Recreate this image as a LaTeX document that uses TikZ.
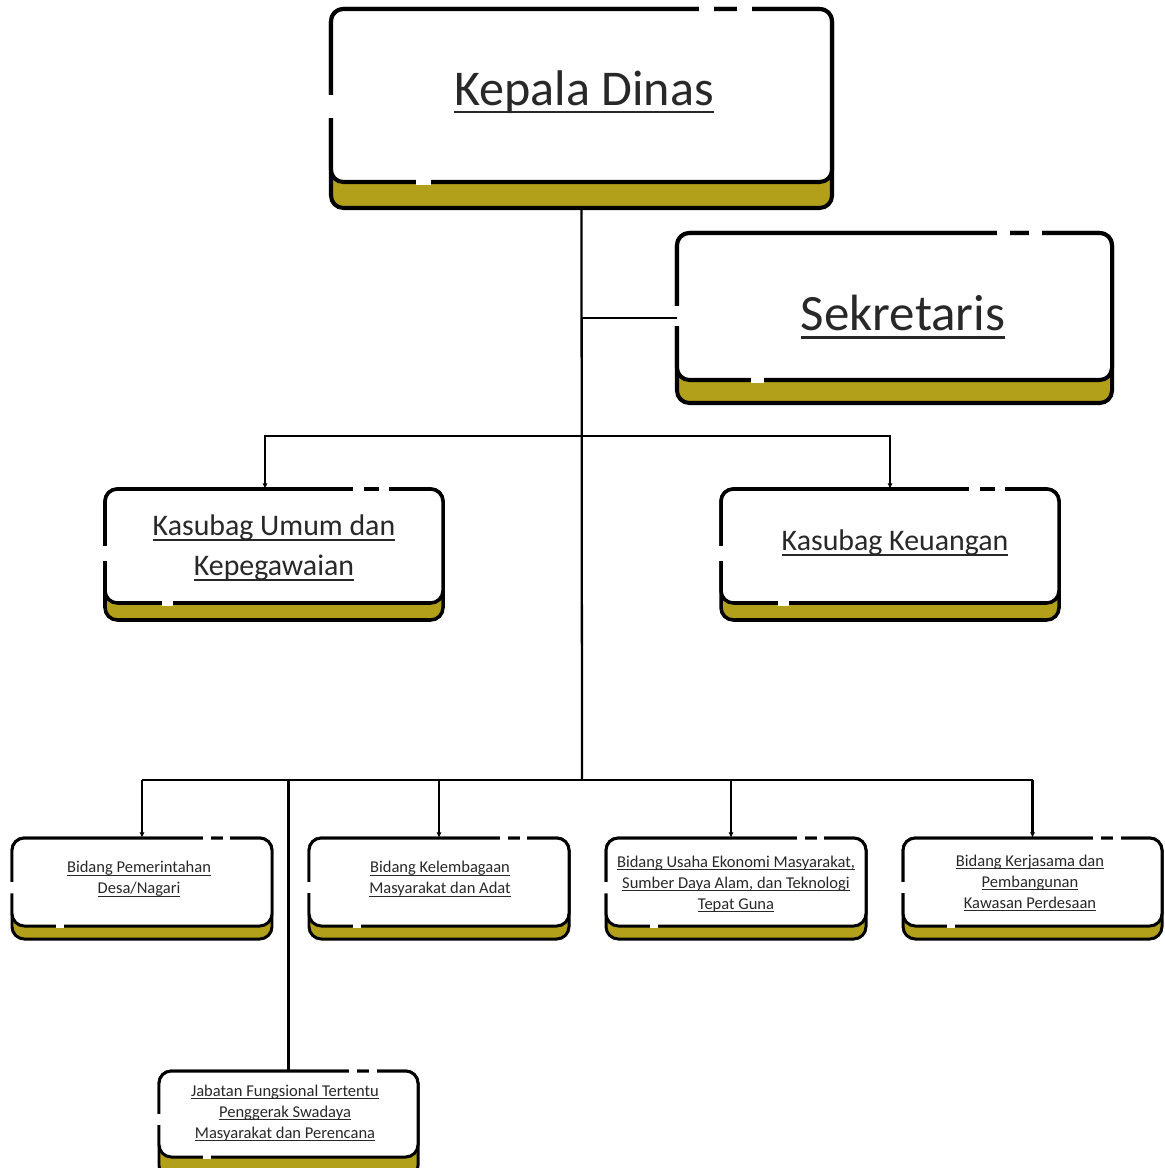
\documentclass[tikz,border=0pt]{standalone}
\usepackage{fontspec}
\setmainfont{Carlito}
\usetikzlibrary{calc,fit,arrows.meta}
\definecolor{olivec}{RGB}{178,160,26}
\definecolor{txt}{RGB}{40,40,40}
\newcommand\ulx[1]{\leavevmode\setbox0=\hbox{#1}\rlap{\rule[-0.16em]{\wd0}{0.055em}}\box0}
\tikzset{
  conn/.style={line width=1.3pt, draw=black},
  tipd/.style={-{Latex[length=3pt,width=3pt]}},
  boxtxt/.style={align=center, text=txt, inner sep=0pt},
}
% #1 name, #2 x1, #3 y1, #4 x2, #5 y2, #6 inner bottom, #7 line width, #8 gap width
\newcommand\obox[8]{%
  \draw[line width=#7, fill=olivec, rounded corners=7pt] (#2,#3) rectangle (#4,#5);
  \draw[line width=#7, fill=white, rounded corners=7pt] (#2,#3) rectangle (#4,#6);
  \draw[white, line width=#8] ($(#2,#3)!0.735!(#4,#3)$) -- ($(#2,#3)!0.765!(#4,#3)$);
  \draw[white, line width=#8] ($(#2,#3)!0.81!(#4,#3)$) -- ($(#2,#3)!0.84!(#4,#3)$);
  \draw[white, line width=#8] ($(#2,#3)!0.5!(#2,#6)$) -- ($(#2,#3)!0.63!(#2,#6)$);
  \draw[white, line width=#8] ($(#2,#6)!0.17!(#4,#6)$) -- ($(#2,#6)!0.2!(#4,#6)$);
  \node[fit={(#2,#3)(#4,#5)}, inner sep=0pt] (#1) {};
}
\begin{document}
\begin{tikzpicture}[x=0.02cm, y=-0.02cm]
\useasboundingbox (0,0) rectangle (1164,1168);
\clip (0,0) rectangle (1164,1168);
\fill[white] (0,0) rectangle (1164,1168);

% boxes
\obox{kd}{331}{9}{832}{208}{182}{2.3pt}{3.5pt}
\obox{sek}{677}{233}{1112}{403}{380}{2.3pt}{3.5pt}
\obox{ku}{105}{489}{443}{620}{603}{2pt}{3pt}
\obox{keu}{721}{489}{1059}{620}{603}{2pt}{3pt}
\obox{b1}{12}{838}{272}{939}{926}{1.7pt}{2.6pt}
\obox{b2}{309}{838}{569}{939}{926}{1.7pt}{2.6pt}
\obox{b3}{606}{838}{866}{939}{926}{1.7pt}{2.6pt}
\obox{b4}{903}{838}{1162}{939}{926}{1.7pt}{2.6pt}
\obox{jf}{159}{1071}{418}{1178}{1157}{1.7pt}{2.6pt}

% texts
\node[boxtxt, font=\fontsize{28.5}{32}\selectfont] (tkd) at (584,92) {\ulx{Kepala Dinas}};
\node[boxtxt, font=\fontsize{29}{32}\selectfont] (tsek) at (903,317) {\ulx{Sekretaris}};
\node[boxtxt, font=\fontsize{17}{22.7}\selectfont] (tku) at (274,548) {\ulx{Kasubag Umum dan}\\\ulx{Kepegawaian}};
\node[boxtxt, font=\fontsize{17}{22.7}\selectfont] (tkeu) at (895,543) {\ulx{Kasubag Keuangan}};
\node[boxtxt, font=\fontsize{9.4}{12}\selectfont] (tb1) at (139,879) {\ulx{Bidang Pemerintahan}\\\ulx{Desa/Nagari}};
\node[boxtxt, font=\fontsize{9.4}{12}\selectfont] (tb2) at (440,879) {\ulx{Bidang Kelembagaan}\\\ulx{Masyarakat dan Adat}};
\node[boxtxt, font=\fontsize{9.4}{12}\selectfont] (tb3) at (736,884) {\ulx{Bidang Usaha Ekonomi Masyarakat,}\\\ulx{Sumber Daya Alam, dan Teknologi}\\\ulx{Tepat Guna}};
\node[boxtxt, font=\fontsize{9.4}{12}\selectfont] (tb4) at (1030,883) {\ulx{Bidang Kerjasama dan}\\\ulx{Pembangunan}\\\ulx{Kawasan Perdesaan}};
\node[boxtxt, font=\fontsize{9.4}{12}\selectfont] (tjf) at (285,1113) {\ulx{Jabatan Fungsional Tertentu}\\\ulx{Penggerak Swadaya}\\\ulx{Masyarakat dan Perencana}};

% connectors
\coordinate (j1) at (582,436);
\coordinate (j2) at (582,780);
\draw[conn] (kd.south) -- (j2);
\draw[conn] (sek.west) -- (sek.west -| kd.south);
\draw[conn, tipd] (j1) -| ($(ku.north)+(-9,0)$);
\draw[conn, tipd] (j1) -| (keu.north);
\draw[conn] (b1.north |- j2) -- (b4.north |- j2);
\draw[conn, tipd] (b1.north |- j2) -- (b1.north);
\draw[conn, tipd] (b2.north |- j2) -- (b2.north);
\draw[conn, tipd] ($(b3.north |- j2)+(-5,0)$) -- ($(b3.north)+(-5,0)$);
\draw[conn, tipd] (b4.north |- j2) -- (b4.north);
\draw[conn] (jf.north |- j2) -- (jf.north);
\end{tikzpicture}
\end{document}
